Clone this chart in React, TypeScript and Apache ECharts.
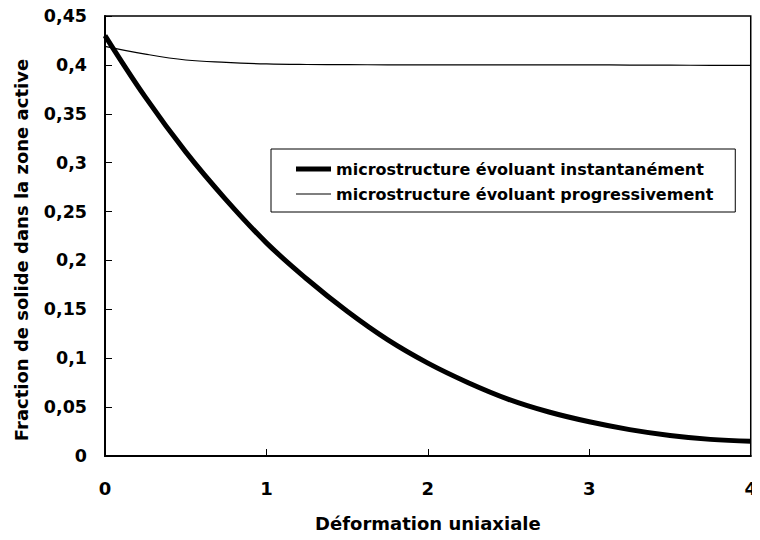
import React, { useEffect, useRef } from "react";
import * as echarts from "echarts";

const xValues = [0, 0.25, 0.5, 0.75, 1, 1.25, 1.5, 1.75, 2, 2.25, 2.5, 2.75, 3, 3.25, 3.5, 3.75, 4];
const instantValues = [0.43, 0.367, 0.311, 0.262, 0.218, 0.181, 0.148, 0.119, 0.095, 0.075, 0.058, 0.045, 0.035, 0.027, 0.021, 0.017, 0.015];
const progressiveValues = [0.419, 0.411, 0.405, 0.4025, 0.401, 0.4004, 0.4002, 0.4001, 0.4, 0.4, 0.4, 0.4, 0.4, 0.3998, 0.3997, 0.3996, 0.3995];
const seriesNames = ["microstructure évoluant instantanément", "microstructure évoluant progressivement"];
const xTitle = "Déformation uniaxiale";
const yTitle = "Fraction de solide dans la zone active";

const FONT = "DejaVu Sans";

export default function App() {
  const ref = useRef<HTMLDivElement>(null);
  useEffect(() => {
    if (!ref.current) return;
    const chart = echarts.init(ref.current, null, { renderer: "svg" });
    const fmt = (v: number) => (v === 0 ? "0" : String(+v.toFixed(2)).replace(".", ","));
    chart.setOption({
      animation: false,
      backgroundColor: "#fff",
      grid: {
        left: 105,
        top: 16,
        right: 5,
        bottom: 84,
        show: true,
        borderColor: "#000",
        borderWidth: 1.5,
        backgroundColor: "transparent",
      },
      legend: {
        orient: "vertical",
        left: 271,
        top: 149,
        padding: [12, 22, 10, 25],
        itemGap: 9,
        itemWidth: 35,
        itemHeight: 16,
        borderColor: "#000",
        borderWidth: 1,
        backgroundColor: "#fff",
        symbolKeepAspect: true,
        data: [
          { name: seriesNames[0], icon: "path://M0 0 H35 V5 H0 Z", itemStyle: { color: "#000" } },
          { name: seriesNames[1], icon: "path://M0 0 H35 V1.2 H0 Z", itemStyle: { color: "#000" } },
        ],
        textStyle: { fontFamily: FONT, fontWeight: "bold", fontSize: 16, color: "#000" },
      },
      xAxis: {
        type: "value",
        min: 0,
        max: 4,
        interval: 1,
        name: xTitle,
        nameLocation: "middle",
        nameGap: 58,
        nameTextStyle: { fontFamily: FONT, fontWeight: "bold", fontSize: 18, color: "#000" },
        axisLine: { lineStyle: { color: "#000", width: 2 } },
        axisTick: { inside: true, length: 7, lineStyle: { color: "#000", width: 1 } },
        axisLabel: { margin: 23, fontFamily: FONT, fontWeight: "bold", fontSize: 18, color: "#000" },
        splitLine: { show: false },
      },
      yAxis: {
        type: "value",
        min: 0,
        max: 0.45,
        interval: 0.05,
        name: yTitle,
        nameLocation: "middle",
        nameGap: 75,
        nameTextStyle: {
          fontFamily: FONT,
          fontWeight: "bold",
          fontSize: 18,
          color: "#000",
          padding: [0, 28, 0, 0],
        },
        axisLine: { lineStyle: { color: "#000", width: 2 } },
        axisTick: { inside: true, length: 7, lineStyle: { color: "#000", width: 1 } },
        axisLabel: { margin: 18, fontFamily: FONT, fontWeight: "bold", fontSize: 17.5, color: "#000", formatter: fmt },
        splitLine: { show: false },
      },
      series: [
        {
          name: seriesNames[0],
          type: "line",
          data: xValues.map((x, i) => [x, instantValues[i]]),
          symbol: "none",
          smooth: 0.4,
          itemStyle: { color: "#000" },
          lineStyle: { color: "#000", width: 5 },
          z: 3,
        },
        {
          name: seriesNames[1],
          type: "line",
          data: xValues.map((x, i) => [x, progressiveValues[i]]),
          symbol: "none",
          smooth: 0.4,
          itemStyle: { color: "#000" },
          lineStyle: { color: "#000", width: 1.2 },
          z: 2,
        },
      ],
    });
    return () => chart.dispose();
  }, []);
  return <div ref={ref} style={{ width: 760, height: 540, margin: -8 }} />;
}
